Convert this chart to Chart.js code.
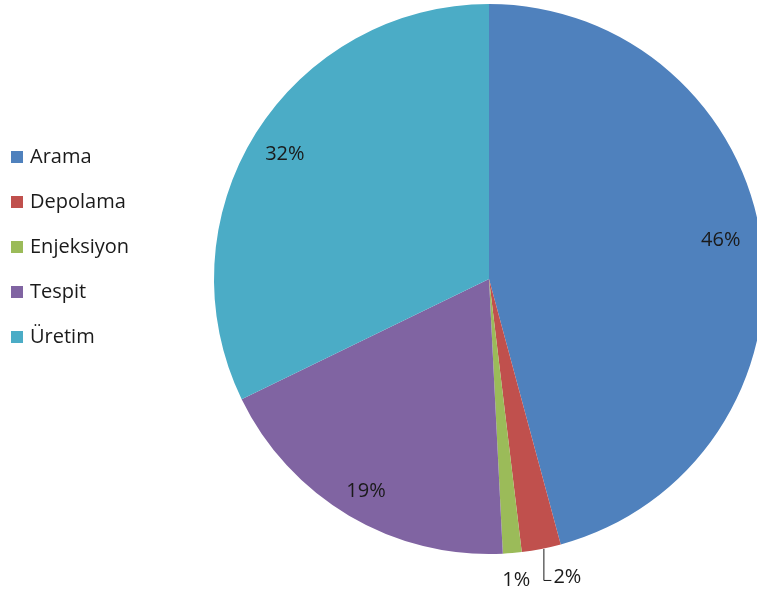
<!DOCTYPE html>
<html>
<head>
<meta charset="utf-8">
<script src="https://cdn.jsdelivr.net/npm/chart.js@4"></script>
<style>
  html, body { margin: 0; padding: 0; background: #fff; overflow: hidden; }
  .wrap { position: relative; width: 757px; height: 594px; overflow: hidden; }
  .wrap canvas { position: absolute; left: 0; top: 0; }
  .legend { position: absolute; left: 11px; top: 142px; font-family: "Open Sans", sans-serif; font-size: 20px; line-height: 28px; color: #1a1a1a; }
  .legend div { height: 45px; display: flex; align-items: flex-start; }
  .legend span { display: inline-block; width: 12px; height: 12px; margin: 9px 7px 0 0; }
</style>
</head>
<body>
<div class="wrap">
  <canvas id="pie" width="800" height="594"></canvas>
  <div class="legend" id="legend"></div>
</div>
<script>
// categories and share of each one (percent)
const categories = ['Arama', 'Depolama', 'Enjeksiyon', 'Tespit', 'Üretim'];
const shares = [45.8, 2.3, 1.1, 18.6, 32.2];

const colors = ['#4F81BD', '#C0504D', '#9BBB59', '#8064A2', '#4BACC6'];

// build the legend as html so the pie can sit off to the right
const legend = document.getElementById('legend');
categories.forEach((name, i) => {
  const row = document.createElement('div');
  row.innerHTML = '<span style="background:' + colors[i] + '"></span>' + name;
  legend.appendChild(row);
});

// small nudges so labels sit where the original "best fit" put them
const nudges = [[0, -8], [0, 0], [0, 0], [-4, 11], [-6, -1]];

// percent labels, small slices go under the edge (one with a leader line)
const pctLabels = {
  id: 'pctLabels',
  afterDatasetsDraw(chart) {
    const ctx = chart.ctx;
    const meta = chart.getDatasetMeta(0);
    const total = shares.reduce((a, b) => a + b, 0);
    ctx.save();
    ctx.font = '20px "Open Sans", sans-serif';
    ctx.fillStyle = '#1a1a1a';
    ctx.textAlign = 'center';
    ctx.textBaseline = 'middle';
    let smallCount = 0;
    meta.data.forEach((arc, i) => {
      const p = arc.getProps(['x', 'y', 'startAngle', 'endAngle', 'outerRadius']);
      const mid = (p.startAngle + p.endAngle) / 2;
      const text = Math.round(shares[i] / total * 100) + '%';
      if (shares[i] >= 5) {
        const r = p.outerRadius * 0.85;
        ctx.fillText(text, p.x + Math.cos(mid) * r + nudges[i][0], p.y + Math.sin(mid) * r + nudges[i][1]);
      } else {
        const ex = p.x + Math.cos(mid) * p.outerRadius;
        const ey = p.y + Math.sin(mid) * p.outerRadius;
        if (smallCount === 0) {
          // leader line down then right
          ctx.strokeStyle = '#1a1a1a';
          ctx.lineWidth = 1;
          ctx.beginPath();
          ctx.moveTo(ex + 2.5, ey);
          ctx.lineTo(ex + 2.5, ey + 31.5);
          ctx.lineTo(ex + 10, ey + 31.5);
          ctx.stroke();
          ctx.textAlign = 'left';
          ctx.fillText(text, ex + 12, ey + 28);
          ctx.textAlign = 'center';
        } else {
          ctx.fillText(text, ex + 4, ey + 27);
        }
        smallCount++;
      }
    });
    ctx.restore();
  }
};

new Chart(document.getElementById('pie'), {
  type: 'pie',
  data: {
    labels: categories,
    datasets: [{
      data: shares,
      backgroundColor: colors,
      borderWidth: 0
    }]
  },
  options: {
    responsive: false,
    animation: false,
    layout: { padding: { left: 214, right: 36, top: 4, bottom: 40 } },
    plugins: {
      legend: { display: false },
      tooltip: { enabled: false }
    }
  },
  plugins: [pctLabels]
});
</script>
</body>
</html>
